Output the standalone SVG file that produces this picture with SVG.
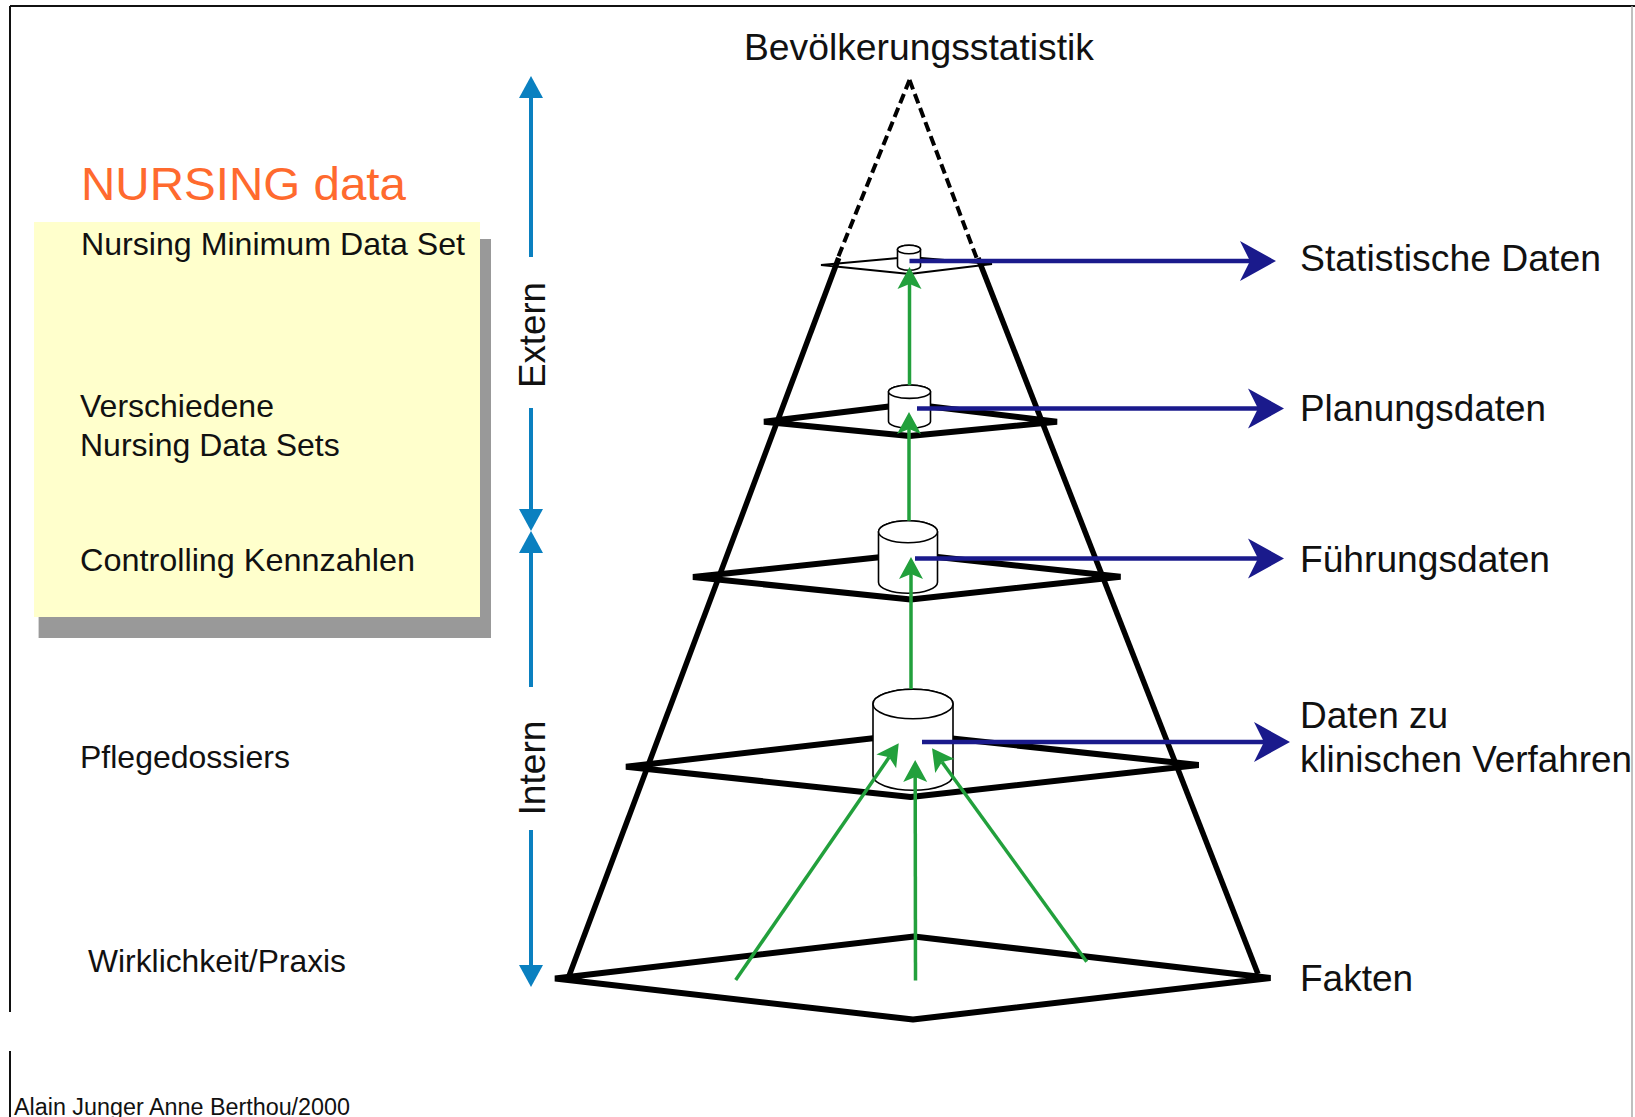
<svg xmlns="http://www.w3.org/2000/svg" width="1635" height="1117" viewBox="0 0 1635 1117">
  <style>
    text { font-family: "Liberation Sans", Arial, Helvetica, sans-serif; fill: #111; }
    .lbl { font-size: 32px; }
    .rl { font-size: 37px; }
    .title { font-size: 46px; fill: #FF6A2E; }
    .plane { fill: none; stroke: #000; stroke-width: 6; stroke-linejoin: bevel; }
    .edge { fill: none; stroke: #000; stroke-width: 5.5; }
    .dash { fill: none; stroke: #000; stroke-width: 4; stroke-dasharray: 10 5; }
    .cyl { fill: #fff; stroke: #000; stroke-width: 1.6; }
    .blue { fill: none; stroke: #0A80C0; stroke-width: 4; }
    .navy { fill: none; stroke: #1A1A8C; stroke-width: 4.5; }
    .green { fill: none; stroke: #22A03C; stroke-width: 3.5; }
  </style>
  <defs>
    <marker id="tri" markerUnits="userSpaceOnUse" markerWidth="24" markerHeight="26" refX="0" refY="12" orient="auto" overflow="visible">
      <path d="M0,0 L22,12 L0,24 Z" fill="#0A80C0"/>
    </marker>
    <marker id="stealth" markerUnits="userSpaceOnUse" markerWidth="40" markerHeight="42" refX="10" refY="20" orient="auto" overflow="visible">
      <path d="M0,0 L36,20 L0,40 L10,20 Z" fill="#1A1A8C"/>
    </marker>
    <marker id="garrow" markerUnits="userSpaceOnUse" markerWidth="24" markerHeight="26" refX="5" refY="12" orient="auto" overflow="visible">
      <path d="M0,0 L22,12 L0,24 L5,12 Z" fill="#22A03C"/>
    </marker>
  </defs>

  <rect x="0" y="0" width="1635" height="1117" fill="#fff"/>

  <g id="frame">
    <line x1="10" y1="6" x2="1635" y2="6" stroke="#111" stroke-width="2"/>
    <line x1="10" y1="6" x2="10" y2="1012" stroke="#111" stroke-width="2"/>
    <line x1="10" y1="1051" x2="10" y2="1117" stroke="#111" stroke-width="2"/>
    <line x1="1632" y1="6" x2="1632" y2="1117" stroke="#aaa" stroke-width="1.5"/>
  </g>

  <g id="title">
    <text class="title" x="81" y="200" textLength="325" lengthAdjust="spacingAndGlyphs">NURSING data</text>
  </g>

  <g id="nursing-box">
    <rect x="38.6" y="239" width="452.4" height="399" fill="#999"/>
    <rect x="34" y="222" width="446" height="395" fill="#FFFFCC"/>
    <text class="lbl" x="81" y="255" textLength="384" lengthAdjust="spacingAndGlyphs">Nursing Minimum Data Set</text>
    <text class="lbl" x="80" y="417">Verschiedene</text>
    <text class="lbl" x="80" y="456">Nursing Data Sets</text>
    <text class="lbl" x="80" y="571" textLength="335" lengthAdjust="spacingAndGlyphs">Controlling Kennzahlen</text>
  </g>

  <g id="label-pflegedossiers">
    <text class="lbl" x="80" y="768">Pflegedossiers</text>
  </g>
  <g id="label-wirklichkeit">
    <text class="lbl" x="88" y="972" textLength="258" lengthAdjust="spacingAndGlyphs">Wirklichkeit/Praxis</text>
  </g>
  <g id="credit">
    <text x="14" y="1115" font-size="23" textLength="336" lengthAdjust="spacingAndGlyphs">Alain Junger Anne Berthou/2000</text>
  </g>

  <g id="label-bevoelkerung">
    <text class="rl" x="744" y="60" textLength="350" lengthAdjust="spacingAndGlyphs">Bevölkerungsstatistik</text>
  </g>

  <g id="pyramid">
    <path class="dash" d="M909.5,80 L837,260"/>
    <path class="dash" d="M909.5,80 L977,259"/>
    <path class="edge" d="M838.7,258 L569,976"/>
    <path class="edge" d="M978,258 L1258,974"/>
    <polygon id="level1" points="821,265 909.5,257 992,264 909.5,274" fill="none" stroke="#000" stroke-width="2" stroke-linejoin="bevel"/>
    <polygon id="level2" class="plane" points="764,421.7 909.5,404 1057,421.7 909.5,436"/>
    <polygon id="level3" class="plane" points="693,577 910,554 1120.5,576.7 910.7,599.5"/>
    <polygon id="level4" class="plane" points="626,766.7 910,734 1198.7,765 910.7,797"/>
    <polygon id="base" class="plane" points="555,978.5 914,936.5 1270.5,978 913,1019.5"/>
  </g>

  <g id="db1">
    <path class="cyl" d="M897.5,249.5 L897.5,266 A11.5,4.3 0 0 0 920.5,266 L920.5,249.5 A11.5,4.3 0 0 0 897.5,249.5 Z"/>
    <ellipse class="cyl" cx="909" cy="249.5" rx="11.5" ry="4.3"/>
  </g>
  <g id="db2">
    <path class="cyl" d="M888.5,391.7 L888.5,421.6 A21,6.7 0 0 0 930.5,421.6 L930.5,391.7 A21,6.7 0 0 0 888.5,391.7 Z"/>
    <ellipse class="cyl" cx="909.5" cy="391.7" rx="21" ry="6.7"/>
  </g>
  <g id="db3">
    <path class="cyl" d="M878.5,531.7 L878.5,582.3 A29.5,11 0 0 0 937.5,582.3 L937.5,531.7 A29.5,11 0 0 0 878.5,531.7 Z"/>
    <ellipse class="cyl" cx="908" cy="531.7" rx="29.5" ry="11"/>
  </g>
  <g id="db4">
    <path class="cyl" d="M873,704 L873,775.5 A40,14.7 0 0 0 953,775.5 L953,704 A40,14.7 0 0 0 873,704 Z"/>
    <ellipse class="cyl" cx="913" cy="704" rx="40" ry="14.7"/>
  </g>

  <g id="scale-labels">
    <rect x="502" y="255" width="60" height="152" fill="#fff"/>
    <rect x="502" y="687" width="60" height="143" fill="#fff"/>
    <text class="rl" transform="translate(545,335) rotate(-90)" text-anchor="middle" textLength="106" lengthAdjust="spacingAndGlyphs">Extern</text>
    <text class="rl" transform="translate(545,768) rotate(-90)" text-anchor="middle" textLength="95" lengthAdjust="spacingAndGlyphs">Intern</text>
  </g>

  <g id="right-labels">
    <text class="rl" x="1300" y="271" textLength="301" lengthAdjust="spacingAndGlyphs">Statistische Daten</text>
    <text class="rl" x="1300" y="421" textLength="246" lengthAdjust="spacingAndGlyphs">Planungsdaten</text>
    <text class="rl" x="1300" y="572" textLength="250" lengthAdjust="spacingAndGlyphs">Führungsdaten</text>
    <text class="rl" x="1300" y="728">Daten zu</text>
    <text class="rl" x="1300" y="772" textLength="332" lengthAdjust="spacingAndGlyphs">klinischen Verfahren</text>
    <text class="rl" x="1300" y="991">Fakten</text>
  </g>

  <g id="connectors">
    <path class="blue" d="M531,257 L531,98" marker-end="url(#tri)"/>
    <path class="blue" d="M531,408 L531,509" marker-end="url(#tri)"/>
    <path class="blue" d="M531,687 L531,553" marker-end="url(#tri)"/>
    <path class="blue" d="M531,830 L531,965" marker-end="url(#tri)"/>

    <path class="green" d="M909.5,385 L909.5,284" marker-end="url(#garrow)"/>
    <path class="green" d="M909,520.7 L909,429" marker-end="url(#garrow)"/>
    <path class="green" d="M911,689 L911,574" marker-end="url(#garrow)"/>
    <path class="green" d="M735.7,980 L889.1,757.3" marker-end="url(#garrow)"/>
    <path class="green" d="M915.5,980.5 L915.2,777" marker-end="url(#garrow)"/>
    <path class="green" d="M1086.7,961.7 L942,762" marker-end="url(#garrow)"/>

    <path class="navy" d="M909.5,261 L1250,261" marker-end="url(#stealth)"/>
    <path class="navy" d="M917,408.5 L1258,408.5" marker-end="url(#stealth)"/>
    <path class="navy" d="M915,558.5 L1258,558.5" marker-end="url(#stealth)"/>
    <path class="navy" d="M922,742 L1264,742" marker-end="url(#stealth)"/>
  </g>
</svg>
